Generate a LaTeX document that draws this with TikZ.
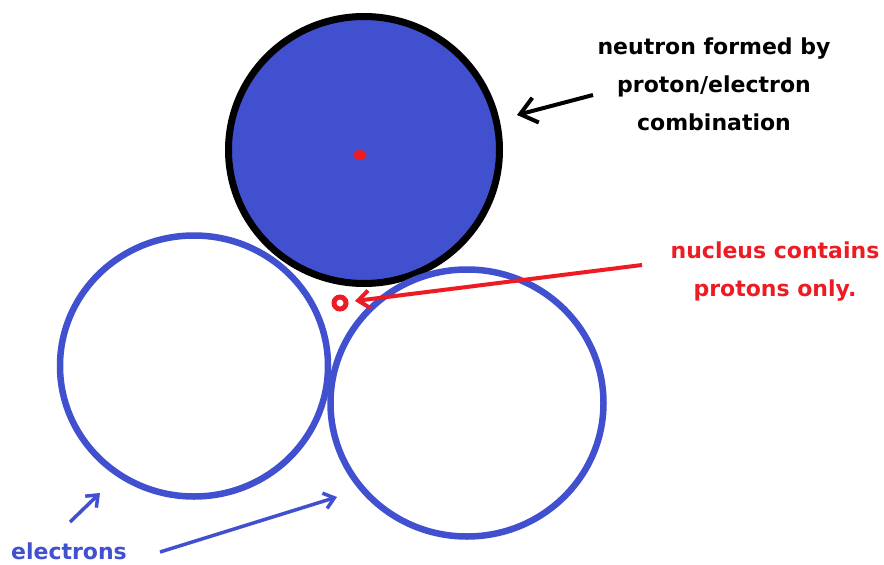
\documentclass[tikz,border=0pt]{standalone}
\usepackage{fontspec}
\setmainfont{DejaVu Sans}
\usetikzlibrary{arrows.meta,shapes.geometric}
\definecolor{eblue}{RGB}{65,80,207}
\definecolor{pred}{RGB}{237,28,36}
\tikzset{
  shell/.style={ellipse, draw=eblue, line width=6.5pt, inner sep=0pt},
  lbl/.style={font=\bfseries\fontsize{22}{38}\selectfont, align=center, inner sep=0pt},
  barb/.style={-{Straight Barb[length=#1pt,width=1.6*#1pt]}},
}
\begin{document}
\begin{tikzpicture}[x=1pt,y=-1pt]
\useasboundingbox[fill=white] (0,0) rectangle (884,565);
% neutron
\node[ellipse, draw=black, fill=eblue, line width=7pt, inner sep=0pt,
      minimum width=271pt, minimum height=267pt] (neutron) at (364,150) {};
\node[ellipse, fill=pred, inner sep=0pt, minimum width=13pt, minimum height=10pt] (core) at (360,155) {};
% electron shells
\node[shell, minimum width=268pt, minimum height=261pt] (left) at (194,366) {};
\node[shell, minimum width=273pt, minimum height=267pt] (right) at (467,403) {};
% nucleus
\node[circle, draw=pred, line width=5pt, minimum size=12pt, inner sep=0pt] (nucleus) at (340,303) {};
% labels
\node[lbl, text=black] (nlabel) at (714,84) {neutron formed by\\proton/electron\\combination};
\node[lbl, text=pred] (plabel) at (775,272) {nucleus contains\\protons only.};
\node[lbl, text=eblue] (elabel) at (69,551) {electrons};
% arrow coordinates
\coordinate (a1s) at (593,95);  \coordinate (a1e) at (517,115);
\coordinate (a2s) at (642,265); \coordinate (a2e) at (355,301);
\coordinate (a3s) at (70,522);  \coordinate (a3e) at (100,493);
\coordinate (a4s) at (160,552); \coordinate (a4e) at (337,497);
\draw[black, line width=4pt, barb=16] (a1s) -- (a1e);
\draw[pred, line width=4pt, barb=11] (a2s) -- (a2e);
\draw[eblue, line width=3.5pt, barb=10] (a3s) -- (a3e);
\draw[eblue, line width=3.5pt, barb=10] (a4s) -- (a4e);
\end{tikzpicture}
\end{document}
